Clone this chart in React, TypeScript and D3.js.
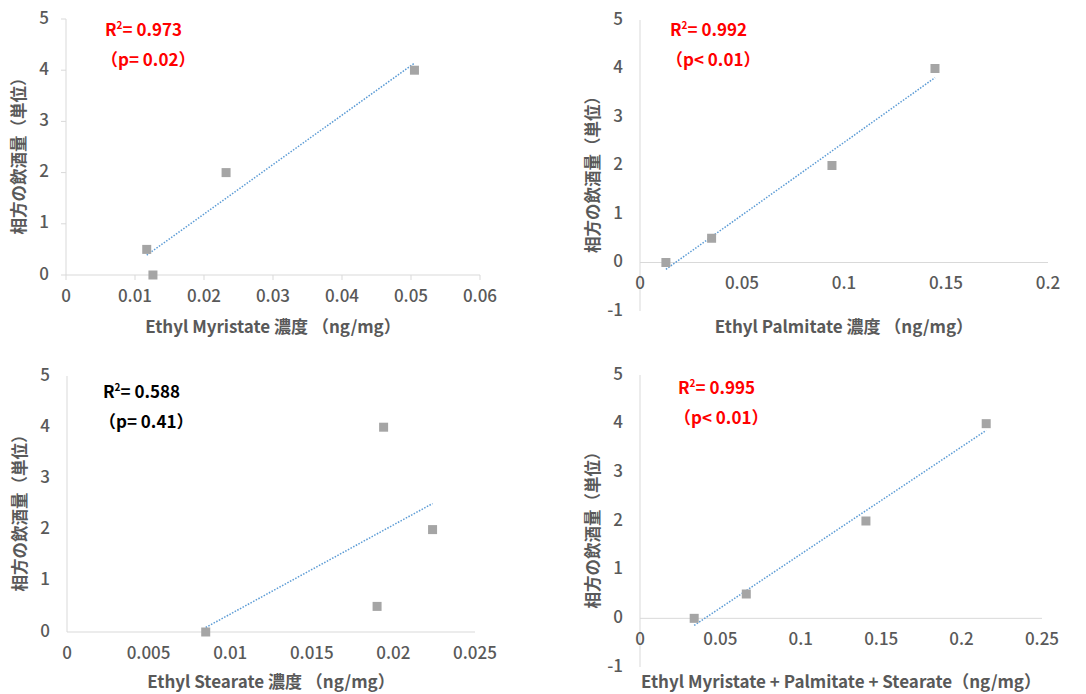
import * as React from "react";
import * as d3 from "d3";

// data
const myristateX = [0.0117, 0.0126, 0.0232, 0.0505];
const myristateY = [0.5, 0, 2, 4];
const palmitateX = [0.0127, 0.0351, 0.0941, 0.1446];
const palmitateY = [0, 0.5, 2, 4];
const stearateX = [0.0085, 0.019, 0.0194, 0.0224];
const stearateY = [0, 0.5, 4, 2];
const totalX = [0.0337, 0.0661, 0.1405, 0.2153];
const totalY = [0, 0.5, 2, 4];

const xTitles = [
  "Ethyl Myristate 濃度 （ng/mg）",
  "Ethyl Palmitate 濃度 （ng/mg）",
  "Ethyl Stearate 濃度 （ng/mg）",
  "Ethyl Myristate + Palmitate + Stearate（ng/mg）",
];
const yTitle = "相方の飲酒量（単位）";
const r2Labels = ["0.973", "0.992", "0.588", "0.995"];
const pLabels = ["（p= 0.02）", "（p< 0.01）", "（p= 0.41）", "（p< 0.01）"];
const significant = [true, true, false, true];

const xTicks = [
  [0, 0.01, 0.02, 0.03, 0.04, 0.05, 0.06],
  [0, 0.05, 0.1, 0.15, 0.2],
  [0, 0.005, 0.01, 0.015, 0.02, 0.025],
  [0, 0.05, 0.1, 0.15, 0.2, 0.25],
];
const yTicks = [
  [0, 1, 2, 3, 4, 5],
  [-1, 0, 1, 2, 3, 4, 5],
  [0, 1, 2, 3, 4, 5],
  [-1, 0, 1, 2, 3, 4, 5],
];

const FONT = "'Noto Sans CJK JP', 'Noto Sans', sans-serif";
const GRAY = "#595959";

const panels = [
  { xs: myristateX, ys: myristateY, box: { l: 66, r: 480, t: 19, b: 275 }, tickMarks: true, lab: { x: 105, y: 31 } },
  { xs: palmitateX, ys: palmitateY, box: { l: 640, r: 1048, t: 20, b: 311 }, tickMarks: false, lab: { x: 670, y: 31 } },
  { xs: stearateX, ys: stearateY, box: { l: 67, r: 475, t: 376, b: 632 }, tickMarks: false, lab: { x: 103, y: 393 } },
  { xs: totalX, ys: totalY, box: { l: 640, r: 1042, t: 375, b: 667 }, tickMarks: false, lab: { x: 678, y: 389 } },
];

function fit(xs: number[], ys: number[]) {
  const mx = d3.mean(xs) as number;
  const my = d3.mean(ys) as number;
  let sxy = 0, sxx = 0;
  xs.forEach((x, i) => {
    sxy += (x - mx) * (ys[i] - my);
    sxx += (x - mx) * (x - mx);
  });
  const slope = sxy / sxx;
  return { slope, intercept: my - slope * mx };
}

function Panel({ i }: { i: number }) {
  const p = panels[i];
  const xt = xTicks[i];
  const yt = yTicks[i];
  const x = d3.scaleLinear().domain([xt[0], xt[xt.length - 1]]).range([p.box.l, p.box.r]);
  const y = d3.scaleLinear().domain([yt[0], yt[yt.length - 1]]).range([p.box.b, p.box.t]);
  const { slope, intercept } = fit(p.xs, p.ys);
  const [x0, x1] = d3.extent(p.xs) as [number, number];
  const line = d3.line<number>().x(d => x(d)).y(d => y(slope * d + intercept));
  const color = significant[i] ? "#FF0000" : "#000000";
  const midY = (p.box.t + p.box.b) / 2 + 5;

  return (
    <g>
      {/* axes */}
      <line x1={p.box.l} x2={p.box.l} y1={p.box.t} y2={p.box.b} stroke="#D9D9D9" strokeWidth={1} />
      <line x1={p.box.l} x2={p.box.r} y1={y(0)} y2={y(0)} stroke="#D9D9D9" strokeWidth={1} />
      {p.tickMarks && xt.map(t => (
        <line key={"xm" + t} x1={x(t)} x2={x(t)} y1={y(0)} y2={y(0) + 5} stroke="#D9D9D9" />
      ))}
      {p.tickMarks && yt.map(t => (
        <line key={"ym" + t} x1={p.box.l - 5} x2={p.box.l} y1={y(t)} y2={y(t)} stroke="#D9D9D9" />
      ))}
      {xt.map(t => (
        <text key={"xl" + t} x={x(t)} y={y(0) + 22} textAnchor="middle" dominantBaseline="middle"
          fontSize={17} fontWeight={500} fill={GRAY} fontFamily={FONT}>{String(t)}</text>
      ))}
      {yt.map(t => (
        <text key={"yl" + t} x={p.box.l - 17} y={y(t)} textAnchor="end" dominantBaseline="middle"
          fontSize={17} fontWeight={500} fill={GRAY} fontFamily={FONT}>{String(t)}</text>
      ))}
      <text x={(p.box.l + p.box.r) / 2} y={i < 2 ? 328 : 683} textAnchor="middle" dominantBaseline="middle"
        fontSize={17} fontWeight="bold" fill={GRAY} fontFamily={FONT}>{xTitles[i]}</text>
      <text transform={`translate(${p.box.l - 45},${midY}) rotate(-90)`} textAnchor="middle" dominantBaseline="middle"
        fontSize={16.5} fontWeight="bold" fill={GRAY} fontFamily={FONT}>{yTitle}</text>

      {/* trend line */}
      <path d={line([x0, x1]) || ""} fill="none" stroke="#5B9BD5" strokeWidth={1.5} strokeDasharray="1.5 1.5" />

      {/* points */}
      {p.xs.map((v, k) => (
        <rect key={k} x={x(v) - 4.5} y={y(p.ys[k]) - 4.5} width={9} height={9} fill="#A5A5A5" />
      ))}

      {/* stats */}
      <text x={p.lab.x} y={p.lab.y} dominantBaseline="middle" fontSize={17} fontWeight="bold" fill={color} fontFamily={FONT}>
        R<tspan fontSize={10} dy={-5}>2</tspan><tspan dy={5}>= {r2Labels[i]}</tspan>
      </text>
      <text x={p.lab.x - 4} y={p.lab.y + 30} dominantBaseline="middle" fontSize={17} fontWeight="bold" fill={color} fontFamily={FONT}>
        {pLabels[i]}
      </text>
    </g>
  );
}

export default function App() {
  return (
    <svg width={1086} height={694} style={{ position: "absolute", left: 0, top: 0, background: "#fff" }}>
      <rect width={1086} height={694} fill="#fff" />
      {panels.map((_, i) => <Panel key={i} i={i} />)}
    </svg>
  );
}
